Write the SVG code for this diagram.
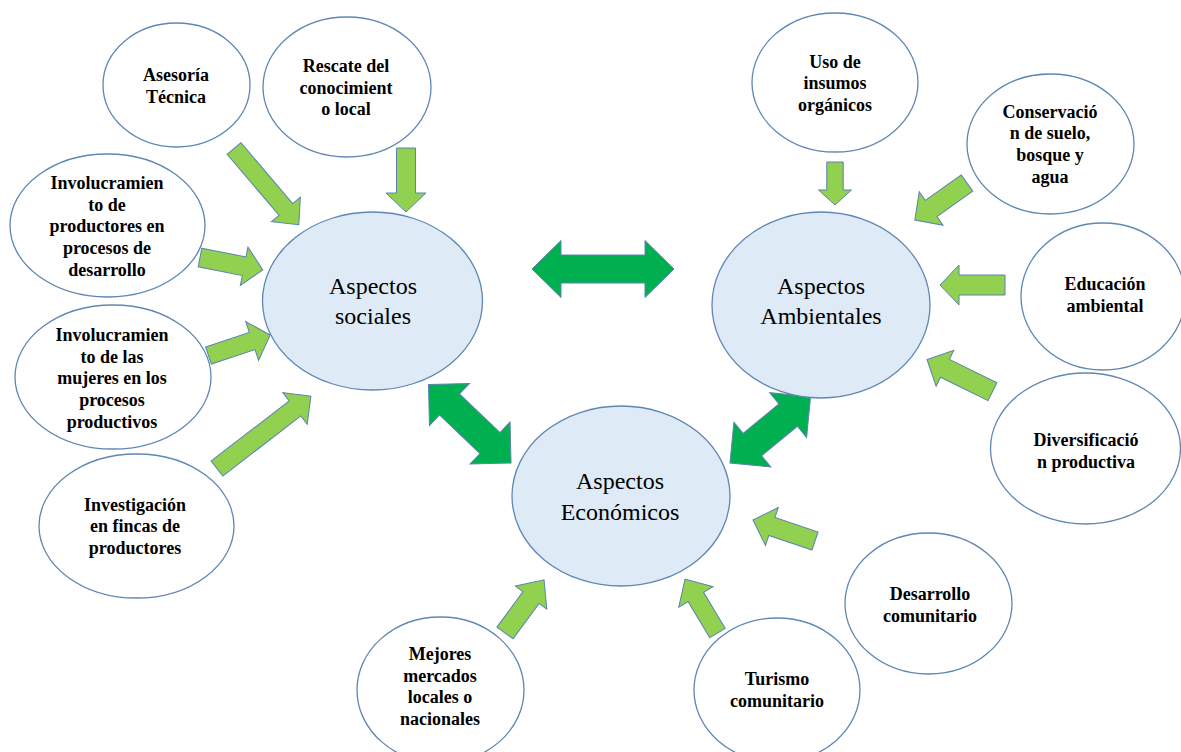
<svg xmlns="http://www.w3.org/2000/svg" width="1181" height="752" viewBox="0 0 1181 752">
<style>
.bg{fill:#ffffff}
.node{fill:#ffffff;stroke:#5F87B4;stroke-width:1.3}
.main{fill:#DEEAF6;stroke:#5F87B4;stroke-width:1.3}
.lbl{font-family:"Liberation Serif","Times New Roman",serif;font-weight:bold;font-size:18px;fill:#000;text-anchor:middle}
.big{font-family:"Liberation Serif","Times New Roman",serif;font-size:24px;fill:#000;text-anchor:middle}
.arr{fill:#92D050;stroke:#5B82B0;stroke-width:1}
.darr{fill:#00B050;stroke:#5B82B0;stroke-width:1}
</style>
<rect class="bg" x="0" y="0" width="1181" height="752"/>

<g id="connectors">
  <!-- single arrows: local polygon from tail (0,0) to tip (len,0) -->
  <polygon id="a-asesoria" class="arr" transform="translate(234,148.5) rotate(49.6)" points="0,-9 80,-9 80,-19 100,0 80,19 80,9 0,9"/>
  <polygon id="a-rescate" class="arr" transform="translate(406,148) rotate(90)" points="0,-9.5 45,-9.5 45,-20 64,0 45,20 45,9.5 0,9.5"/>
  <polygon id="a-productores" class="arr" transform="translate(200,257.5) rotate(11.2)" points="0,-9.5 45,-9.5 45,-19.5 64,0 45,19.5 45,9.5 0,9.5"/>
  <polygon id="a-mujeres" class="arr" transform="translate(208.5,355.5) rotate(-18.4)" points="0,-9 46,-9 46,-20.5 65,0 46,20.5 46,9 0,9"/>
  <polygon id="a-investigacion" class="arr" transform="translate(217,468.5) rotate(-37.6)" points="0,-9.5 98.5,-9.5 98.5,-20 118.5,0 98.5,20 98.5,9.5 0,9.5"/>
  <polygon id="a-uso" class="arr" transform="translate(835,162) rotate(90)" points="0,-8.2 28,-8.2 28,-16.5 43,0 28,16.5 28,8.2 0,8.2"/>
  <polygon id="a-conservacion" class="arr" transform="translate(967,183) rotate(144.6)" points="0,-10 44,-10 44,-20.5 64,0 44,20.5 44,10 0,10"/>
  <polygon id="a-educacion" class="arr" transform="translate(1005,285) rotate(180)" points="0,-10 46,-10 46,-20 65,0 46,20 46,10 0,10"/>
  <polygon id="a-diversificacion" class="arr" transform="translate(992.5,391.7) rotate(206.2)" points="0,-10 53,-10 53,-20 73,0 53,20 53,10 0,10"/>
  <polygon id="a-desarrollo" class="arr" transform="translate(815,541) rotate(198.7)" points="0,-9.5 45.5,-9.5 45.5,-20 65.5,0 45.5,20 45.5,9.5 0,9.5"/>
  <polygon id="a-turismo" class="arr" transform="translate(717.5,633) rotate(239)" points="0,-9 42,-9 42,-20 63,0 42,20 42,9 0,9"/>
  <polygon id="a-mejores" class="arr" transform="translate(505,633) rotate(-53.7)" points="0,-10 44,-10 44,-19.5 66,0 44,19.5 44,10 0,10"/>
  <!-- double arrows: centered -->
  <polygon id="d-soc-amb" class="darr" transform="translate(603,269)" points="-71,0 -42,-28.5 -42,-14 42,-14 42,-28.5 71,0 42,28.5 42,14 -42,14 -42,28.5"/>
  <polygon id="d-soc-eco" class="darr" transform="translate(469.75,423.75) rotate(43.6)" points="-57,0 -28,-29 -28,-14.5 28,-14.5 28,-29 57,0 28,29 28,14.5 -28,14.5 -28,29"/>
  <polygon id="d-amb-eco" class="darr" transform="translate(770.25,429.85) rotate(-39.5)" points="-52.2,0 -23.2,-29 -23.2,-14.5 23.2,-14.5 23.2,-29 52.2,0 23.2,29 23.2,14.5 -23.2,14.5 -23.2,29"/>
</g>

<g id="n-sociales">
  <ellipse class="main" cx="372.5" cy="301" rx="110" ry="89"/>
  <text class="big" x="373" y="294">Aspectos</text>
  <text class="big" x="373" y="324">sociales</text>
</g>
<g id="n-ambientales">
  <ellipse class="main" cx="821" cy="305" rx="109" ry="93"/>
  <text class="big" x="821" y="294">Aspectos</text>
  <text class="big" x="821" y="324">Ambientales</text>
</g>
<g id="n-economicos">
  <ellipse class="main" cx="621" cy="496" rx="109" ry="90"/>
  <text class="big" x="620" y="489">Aspectos</text>
  <text class="big" x="620" y="520">Económicos</text>
</g>

<g id="n-asesoria">
  <ellipse class="node" cx="176.5" cy="85" rx="73.5" ry="62"/>
  <text class="lbl" x="176" y="81">Asesoría</text>
  <text class="lbl" x="176" y="103">Técnica</text>
</g>
<g id="n-rescate">
  <ellipse class="node" cx="347" cy="87" rx="84" ry="70"/>
  <text class="lbl" x="346" y="72">Rescate del</text>
  <text class="lbl" x="346" y="93.5">conocimient</text>
  <text class="lbl" x="346" y="115">o local</text>
</g>
<g id="n-productores">
  <ellipse class="node" cx="107.5" cy="225.5" rx="97.5" ry="71.5"/>
  <text class="lbl" x="107" y="189">Involucramien</text>
  <text class="lbl" x="107" y="210.5">to de</text>
  <text class="lbl" x="107" y="232">productores en</text>
  <text class="lbl" x="107" y="254">procesos de</text>
  <text class="lbl" x="107" y="275.5">desarrollo</text>
</g>
<g id="n-mujeres">
  <ellipse class="node" cx="113" cy="377" rx="98" ry="72"/>
  <text class="lbl" x="112" y="341">Involucramien</text>
  <text class="lbl" x="112" y="362.5">to de las</text>
  <text class="lbl" x="112" y="384">mujeres en los</text>
  <text class="lbl" x="112" y="406">procesos</text>
  <text class="lbl" x="112" y="427.5">productivos</text>
</g>
<g id="n-investigacion">
  <ellipse class="node" cx="136.5" cy="526" rx="97.5" ry="72"/>
  <text class="lbl" x="135" y="510.5">Investigación</text>
  <text class="lbl" x="135" y="532">en fincas de</text>
  <text class="lbl" x="135" y="553.5">productores</text>
</g>
<g id="n-uso">
  <ellipse class="node" cx="835" cy="82.5" rx="83" ry="69.5"/>
  <text class="lbl" x="835" y="67.5">Uso de</text>
  <text class="lbl" x="835" y="89">insumos</text>
  <text class="lbl" x="835" y="110.5">orgánicos</text>
</g>
<g id="n-conservacion">
  <ellipse class="node" cx="1050.5" cy="144" rx="83.5" ry="70"/>
  <text class="lbl" x="1050" y="117.5">Conservació</text>
  <text class="lbl" x="1050" y="139">n de suelo,</text>
  <text class="lbl" x="1050" y="161">bosque y</text>
  <text class="lbl" x="1050" y="182.5">agua</text>
</g>
<g id="n-educacion">
  <ellipse class="node" cx="1103" cy="296.5" rx="82" ry="73.5"/>
  <text class="lbl" x="1105" y="290">Educación</text>
  <text class="lbl" x="1105" y="311.5">ambiental</text>
</g>
<g id="n-diversificacion">
  <ellipse class="node" cx="1085.5" cy="448.5" rx="95" ry="75.5"/>
  <text class="lbl" x="1086" y="446">Diversificació</text>
  <text class="lbl" x="1086" y="467.5">n productiva</text>
</g>
<g id="n-desarrollo">
  <ellipse class="node" cx="928.5" cy="603.5" rx="83.5" ry="70.5"/>
  <text class="lbl" x="930" y="600">Desarrollo</text>
  <text class="lbl" x="930" y="621.5">comunitario</text>
</g>
<g id="n-turismo">
  <ellipse class="node" cx="777" cy="690" rx="83" ry="72"/>
  <text class="lbl" x="777" y="685">Turismo</text>
  <text class="lbl" x="777" y="706.5">comunitario</text>
</g>
<g id="n-mejores">
  <ellipse class="node" cx="440.5" cy="690" rx="83.5" ry="73"/>
  <text class="lbl" x="440" y="660">Mejores</text>
  <text class="lbl" x="440" y="681.5">mercados</text>
  <text class="lbl" x="440" y="703">locales o</text>
  <text class="lbl" x="440" y="724.5">nacionales</text>
</g>
</svg>
